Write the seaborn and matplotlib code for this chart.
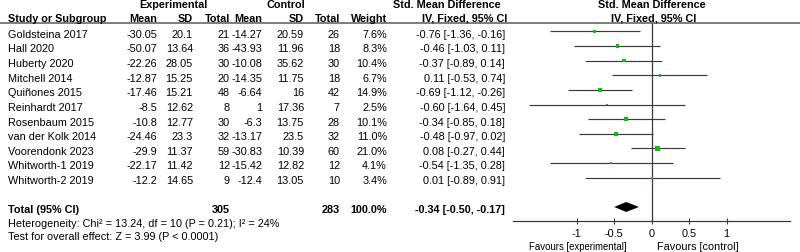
import matplotlib
matplotlib.use("Agg")
import matplotlib.pyplot as plt
import seaborn as sns
import pandas as pd
import numpy as np

# ---------------- data ----------------
studies = ["Goldsteina 2017", "Hall 2020", "Huberty 2020", "Mitchell 2014",
           "Quiñones 2015", "Reinhardt 2017", "Rosenbaum 2015", "van der Kolk 2014",
           "Voorendonk 2023", "Whitworth-1 2019", "Whitworth-2 2019"]
exp_mean = [-30.05, -50.07, -22.26, -12.87, -17.46, -8.5, -10.8, -24.46, -29.9, -22.17, -12.2]
exp_sd = [20.1, 13.64, 28.05, 15.25, 15.21, 12.62, 12.77, 23.3, 11.37, 11.42, 14.65]
exp_n = [21, 36, 30, 20, 48, 8, 30, 32, 59, 12, 9]
ctl_mean = [-14.27, -43.93, -10.08, -14.35, -6.64, 1, -6.3, -13.17, -30.83, -15.42, -12.4]
ctl_sd = [20.59, 11.96, 35.62, 11.75, 16, 17.36, 13.75, 23.5, 10.39, 12.82, 13.05]
ctl_n = [26, 18, 30, 18, 42, 7, 28, 32, 60, 12, 10]
weight = [7.6, 8.3, 10.4, 6.7, 14.9, 2.5, 10.1, 11.0, 21.0, 4.1, 3.4]
smd = [-0.76, -0.46, -0.37, 0.11, -0.69, -0.60, -0.34, -0.48, 0.08, -0.54, 0.01]
ci_lo = [-1.36, -1.03, -0.89, -0.53, -1.12, -1.64, -0.85, -0.97, -0.27, -1.35, -0.89]
ci_hi = [-0.16, 0.11, 0.14, 0.74, -0.26, 0.45, 0.18, 0.02, 0.44, 0.28, 0.91]
total_exp_n = 305
total_ctl_n = 283
total_weight = 100.0
total_smd, total_lo, total_hi = -0.34, -0.50, -0.17
heterogeneity = "Heterogeneity: Chi² = 13.24, df = 10 (P = 0.21); I² = 24%"
overall = "Test for overall effect: Z = 3.99 (P < 0.0001)"
tick_vals = [-1, -0.5, 0, 0.5, 1]
tick_labels = ["-1", "-0.5", "0", "0.5", "1"]
favours_left = "Favours [experimental]"
favours_right = "Favours [control]"

# ---------------- style ----------------
sns.set_theme(style="white")
plt.rcParams['font.family'] = ['Liberation Sans', 'DejaVu Sans']
FS = 7.85
LINE = '#3a3a3a'
GREEN = '#00c800'

W, H = 800, 253
fig = plt.figure(figsize=(W / 100, H / 100), dpi=100)

# text layer in pixel coordinates
tax = fig.add_axes([0, 0, 1, 1])
tax.set_xlim(0, W)
tax.set_ylim(H, 0)
tax.axis('off')

ROW0_PX, ROW_STEP = 32.3, 14.64          # marker-centre of first study row
BASE_OFF = 5.4                            # text baseline below row centre


def row_base(i):
    return ROW0_PX + ROW_STEP * i + BASE_OFF


def put(x, y, s, ha='right', bold=False, fs=FS):
    tax.text(x, y, s, ha=ha, va='baseline', fontsize=fs,
             fontweight='bold' if bold else 'normal', color='black')


def fmt(v):
    return f"{v:g}"


# header
put(173.5, 8.3, "Experimental", ha='center', bold=True)
put(285.5, 8.3, "Control", ha='center', bold=True)
put(446.5, 8.3, "Std. Mean Difference", ha='center', bold=True)
put(651.7, 8.3, "Std. Mean Difference", ha='center', bold=True)
put(8, 21.7, "Study or Subgroup", ha='left', bold=True)
for x, s in [(157, "Mean"), (193, "SD"), (230, "Total"), (262.5, "Mean"),
             (304, "SD"), (340, "Total"), (387, "Weight")]:
    put(x, 21.7, s, bold=True)
put(465, 21.7, "IV, Fixed, 95% CI", ha='center', bold=True)
put(654, 21.7, "IV, Fixed, 95% CI", ha='center', bold=True)
tax.plot([0, W], [23.6, 23.6], color='#5a5a5a', lw=1.1, solid_capstyle='butt')

# study rows
for i, name in enumerate(studies):
    y = row_base(i)
    put(8, y, name, ha='left')
    put(157, y, fmt(exp_mean[i]))
    put(193, y, fmt(exp_sd[i]))
    put(230, y, fmt(exp_n[i]))
    put(262.5, y, fmt(ctl_mean[i]))
    put(304, y, fmt(ctl_sd[i]))
    put(340, y, fmt(ctl_n[i]))
    put(387, y, f"{weight[i]:.1f}%")
    put(505, y, f"{smd[i]:.2f} [{ci_lo[i]:.2f}, {ci_hi[i]:.2f}]")

# total rows
ty = row_base(12)
put(8, ty, "Total (95% CI)", ha='left', bold=True)
put(230, ty, f"{total_exp_n}", bold=True)
put(340, ty, f"{total_ctl_n}", bold=True)
put(387, ty, f"{total_weight:.1f}%", bold=True)
put(505, ty, f"{total_smd:.2f} [{total_lo:.2f}, {total_hi:.2f}]", bold=True)
put(8, 226.7, heterogeneity, ha='left')
put(8, 240.0, overall, ha='left')

# ---------------- forest plot ----------------
ZERO_PX, UNIT_PX = 651.7, 75.0
AX_BOTTOM_PX = 221.7
xmin, xmax = -1.85, 1.85
left_px = ZERO_PX + xmin * UNIT_PX
fax = fig.add_axes([left_px / W, (H - AX_BOTTOM_PX) / H,
                    (xmax - xmin) * UNIT_PX / W, AX_BOTTOM_PX / H])
fax.patch.set_alpha(0)
r_top = (0 - ROW0_PX) / ROW_STEP
r_bot = (AX_BOTTOM_PX - ROW0_PX) / ROW_STEP
fax.set_xlim(xmin, xmax)
fax.set_ylim(r_bot, r_top)

rows = np.arange(len(studies))
df = pd.DataFrame({"smd": smd, "row": rows, "weight": weight,
                   "lo": ci_lo, "hi": ci_hi})

# zero line
r_hdr = (23.6 - ROW0_PX) / ROW_STEP
fax.vlines(0, r_hdr, r_bot, color=LINE, lw=0.9)
# CI lines
fax.hlines(df["row"], df["lo"], df["hi"], color=LINE, lw=0.85)
# weighted squares
k = 0.616
sns.scatterplot(data=df, x="smd", y="row", size="weight",
                sizes=(k * min(weight), k * max(weight)),
                size_norm=(min(weight), max(weight)),
                marker='s', color=GREEN, linewidth=0, legend=False,
                ax=fax, zorder=3)
# pooled diamond
half_h = 0.34
fax.fill([total_lo, total_smd, total_hi, total_smd],
         [12, 12 - half_h, 12, 12 + half_h], color='black', lw=0, zorder=3)

fax.set_xlabel("")
fax.set_ylabel("")
fax.set_yticks([])
fax.set_xticks(tick_vals)
fax.set_xticklabels(tick_labels)
for s in ['top', 'left', 'right']:
    fax.spines[s].set_visible(False)
fax.spines['bottom'].set_color(LINE)
fax.spines['bottom'].set_linewidth(0.9)
fax.tick_params(axis='x', bottom=True, direction='inout', length=3.8, width=0.8,
                color=LINE, pad=3.0, labelsize=FS, labelcolor='black')

put(627, 250, favours_left, ha='right', fs=6.9)
put(ZERO_PX + 5.5, 250, favours_right, ha='left')

fig.savefig("out.png", dpi=100)
